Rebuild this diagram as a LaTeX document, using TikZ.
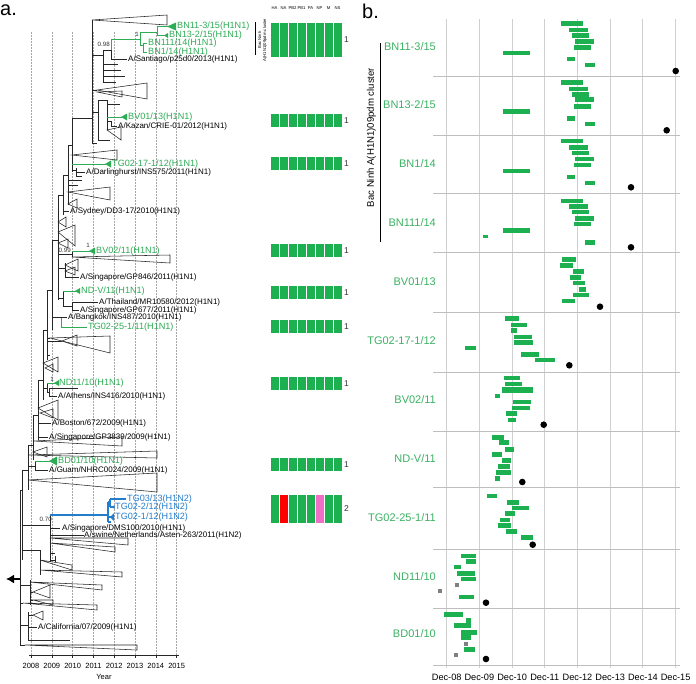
\documentclass[tikz,border=0pt]{standalone}
\usepackage{fontspec}
\setmainfont{Liberation Sans}
\usetikzlibrary{arrows.meta}
\definecolor{tgreen}{RGB}{45,172,85}
\definecolor{lgreen}{RGB}{60,178,100}
\definecolor{barg}{RGB}{29,176,80}
\definecolor{tblue}{RGB}{35,125,205}
\definecolor{gridc}{RGB}{208,208,208}
\definecolor{sepc}{RGB}{190,190,190}
\definecolor{segpink}{RGB}{240,110,200}
\newcommand\ctri[5]{\draw[treeln] (#1,#2) -- (#3,#4) -- (#3,#5) -- cycle;}
\begin{document}
\begin{tikzpicture}[x=1pt,y=-1pt,
 treeln/.style={line width=0.55pt, draw=black!85},
 grnln/.style={line width=0.8pt, draw=tgreen},
 bluln/.style={line width=1.1pt, draw=tblue},
 yearln/.style={line width=0.5pt, draw=black!35, dash pattern=on 1.5pt off 1.5pt},
 tlab/.style={font=\fontsize{8}{9}\selectfont, anchor=west, inner sep=0pt, text=black},
 glab/.style={font=\fontsize{9.1}{10}\selectfont, anchor=west, inner sep=0pt, text=tgreen},
 blulab/.style={glab, text=tblue},
 smlab/.style={font=\fontsize{6.2}{7}\selectfont, inner sep=0pt, text=black!80},
 hdlab/.style={font=\fontsize{4.2}{5}\selectfont, inner sep=0pt},
 onelab/.style={font=\fontsize{8.5}{9}\selectfont, anchor=west, inner sep=0pt, text=black!80},
 yrlab/.style={font=\fontsize{7.5}{8}\selectfont, inner sep=0pt},
 blab/.style={font=\fontsize{11}{12}\selectfont, anchor=east, inner sep=0pt, text=lgreen},
 axlab/.style={font=\fontsize{9.2}{10}\selectfont, inner sep=0pt},
 panlab/.style={font=\fontsize{20}{22}\selectfont, anchor=north west, inner sep=0pt},
 gridln/.style={line width=1pt, draw=gridc},
 sepln/.style={line width=0.8pt, draw=sepc}
]
\useasboundingbox[fill=white] (0,0) rectangle (696,683);

% ================= PANEL A =================
\node[panlab] (pa) at (0,5) {a.};
% year grid
\foreach \k in {0,...,7} \draw[yearln] ({31+20.8*\k},32) -- ({31+20.8*\k},655);
\draw[treeln] (29,655) -- (179,655);
\foreach \k/\yr in {0/2008,1/2009,2/2010,3/2011,4/2012,5/2013,6/2014,7/2015}{
  \draw[treeln] ({31+20.8*\k},655) -- ({31+20.8*\k},658);
  \node[yrlab] (yr\k) at ({31+20.8*\k},666) {\yr};
}
\node[yrlab] (yearlab) at (104,677) {Year};

% ---- top clade
\draw[treeln] (72,118) -- (92,118);
\draw[treeln] (92,20) -- (92,143);
\ctri{92}{20}{167}{15}{25}
\draw[treeln] (92,55) -- (103,55) (103,50) -- (103,82);
\draw[treeln] (103,50) -- (111,50) -- (111,59) -- (127,59);
\draw[grnln] (111,50) -- (111,39) -- (140,39);
\draw[grnln] (140,32) -- (140,45);
\draw[grnln] (140,32) -- (157,32) (157,26.5) -- (157,35.5);
\draw[grnln] (157,26.5) -- (168,26.5) (157,35.5) -- (165,35.5);
\fill[tgreen] (167,26.5) -- (176,22.5) -- (176,30.5) -- cycle;
\fill[tgreen] (164,35.5) -- (168,33) -- (168,38) -- cycle;
\draw[grnln] (140,45) -- (143,45) (143,43.5) -- (143,52) (143,43.5) -- (147,43.5) (143,52) -- (147,52);
\draw[treeln] (103,64) -- (118,64) (103,70) -- (121,70) (103,76) -- (125,76) (103,82) -- (116,82);
\draw[treeln] (92,90) -- (97,90);
\ctri{97}{90}{147}{83}{99}
\ctri{97}{92}{122}{91}{97}
\draw[treeln] (92,112) -- (98,112) (98,100) -- (98,140) (98,100) -- (107,100) (107,100) -- (107,130);
\draw[treeln] (107,104) -- (120,104) (107,121) -- (111,121) (111,121) -- (111,126) -- (117,126);
\draw[grnln] (107,117) -- (122,117);
\fill[tgreen] (121,117) -- (127,113.5) -- (127,120.5) -- cycle;
\ctri{107}{130}{121}{127}{140}
\draw[treeln] (98,140) -- (110,140) (92,143) -- (97,143);

% ---- middle
\draw[treeln] (72,118) -- (72,172);
\ctri{72}{155}{117}{150}{160}
\draw[grnln] (72,164) -- (106,164);
\fill[tgreen] (105,164) -- (111,160.5) -- (111,167.5) -- cycle;
\draw[treeln] (72,170) -- (76,170) (76,168) -- (76,176) (76,172) -- (85,172) (76,176) -- (82,176);
\draw[treeln] (68,145) -- (72,145) (68,145) -- (68,205);
\draw[treeln] (68,180) -- (82,180) (68,185) -- (78,185);
\ctri{68}{192}{110}{187}{200}
\ctri{68}{204}{77}{199}{208}
\draw[treeln] (63,175) -- (68,175) (63,175) -- (63,215) (63,211) -- (69,211);
\draw[treeln] (58,195) -- (63,195) (58,195) -- (58,300);
\ctri{58}{222}{66}{217}{227}
\ctri{58}{232}{75}{225}{246}
\ctri{58}{243}{68}{239}{248}
\draw[treeln] (58,254) -- (72,254) (72,251) -- (72,257);
\draw[grnln] (72,251) -- (90,251);
\fill[tgreen] (89,251) -- (95,247.5) -- (95,254.5) -- cycle;
\ctri{72}{257}{170}{255}{263}
\draw[treeln] (58,268) -- (65,268) (65,263) -- (65,277) (65,277) -- (79,277);
\ctri{65}{265}{78}{259}{271}
\ctri{65}{271}{75}{267}{275}
\draw[treeln] (58,298) -- (63,298) (63,291) -- (63,306) (63,306) -- (72,306) (72,302) -- (72,310) (72,302) -- (98,302) (72,310) -- (79,310);
\draw[grnln] (63,291) -- (76,291);
\fill[tgreen] (75,291) -- (80,288) -- (80,294) -- cycle;
\draw[treeln] (52,240) -- (58,240) (52,240) -- (52,330) (52,317.5) -- (67,317.5);
\draw[grnln] (61,317.5) -- (61,327) -- (87,327);
\draw[treeln] (47,290) -- (52,290) (47,290) -- (47,360);
\draw[treeln] (47,338) -- (50,338) (47,341) -- (62,341) (47,355) -- (50,355);
\ctri{50}{338}{110}{336}{353}
\ctri{62}{341}{77}{335}{346}
\draw[treeln] (43,330) -- (47,330) (43,330) -- (43,400);
\ctri{43}{363}{58}{357}{372}
\ctri{45}{368}{53}{364}{372}
\draw[treeln] (43,388) -- (47,388) (47,383) -- (47,392) (47,392) -- (49,392) (49,388) -- (49,396) (49,388) -- (78,388) (49,396) -- (57,396);
\draw[grnln] (47,383) -- (55,383);
\fill[tgreen] (54,383) -- (59,380) -- (59,386) -- cycle;
\draw[treeln] (38,380) -- (43,380) (38,380) -- (38,440);
\ctri{38}{408}{58}{400}{420}
\ctri{40}{413}{53}{409}{418}
\draw[treeln] (38,423) -- (51,423) (38,437) -- (48,437);
\draw[treeln] (33,415) -- (38,415) (33,415) -- (33,460);
\ctri{33}{441}{122}{437}{446}
\ctri{33}{452}{47}{447}{457}
\draw[treeln] (28,445) -- (33,445) (28,445) -- (28,490);
\ctri{28}{455}{157}{451}{458}
\draw[treeln] (28,466) -- (35,466) (35,461) -- (35,470) (35,470) -- (48,470);
\draw[grnln] (35,461) -- (50,461);
\fill[tgreen] (49,461) -- (57,456.5) -- (57,465.5) -- cycle;
\ctri{28}{480}{157}{473}{492}

% ---- lower / blue
\draw[treeln] (22,470) -- (28,470) (22,470) -- (22,560) (22,525) -- (50,525) (50,515) -- (50,562);
\draw[bluln] (50,515) -- (108,515) (108,502) -- (108,522) (108,502) -- (110,502) (110,499) -- (110,507) (110,499) -- (126,499) (110,507) -- (114,507) (108,517) -- (111,517) (108,522) -- (111,522);
\fill[tblue] (110,517) -- (114,513) -- (114,521) -- cycle;
\fill[tblue] (112,507) -- (114.5,505) -- (114.5,509) -- cycle;
\draw[treeln] (50,528) -- (60,528) (50,535) -- (84,535);
\ctri{50}{538}{128}{538}{545}
\ctri{50}{543}{115}{547}{552}
\draw[treeln] (50,553) -- (55,553) (50,560) -- (55,560) (55,556) -- (55,562);
\draw[treeln] (20,490) -- (22,490) (20,490) -- (20,645);
\draw[treeln] (22,550) -- (40,550) (40,550) -- (40,575);
\ctri{40}{560}{72}{565}{570}
\ctri{40}{570}{122}{572}{577}
\draw[treeln] (20,585) -- (30,585) (30,580) -- (30,605) (30,592) -- (33,592) (30,600) -- (33,600);
\ctri{30}{582}{102}{585}{590}
\ctri{33}{592}{50}{585}{598}
\ctri{33}{600}{53}{600}{605}
\draw[treeln] (20,603) -- (23,603);
\ctri{23}{603}{97}{605}{610}
\draw[treeln] (20,625) -- (28,625) (28,612) -- (28,640) (28,615) -- (33,615) (28,627) -- (37,627) (28,640) -- (70,640) (20,645) -- (25,645);
\ctri{33}{615}{43}{611}{620}
\ctri{25}{645}{137}{645}{650}
\coordinate (rootpt) at (20,579);
\coordinate (rootend) at (6,579);
\draw[line width=1.4pt, -{Latex[length=8pt,width=9pt]}] (rootpt) -- (rootend);

% ---- tree labels
\node[glab] (l1) at (177,26.5) {BN11-3/15(H1N1)};
\node[glab] (l2) at (169,35.5) {BN13-2/15(H1N1)};
\node[glab] (l3) at (148,43.5) {BN111/14(H1N1)};
\node[glab] (l4) at (148,52) {BN1/14(H1N1)};
\node[tlab] (l5) at (128,59.5) {A/Santiago/p25d0/2013(H1N1)};
\node[glab] (l6) at (128,117) {BV01/13(H1N1)};
\node[tlab] (l7) at (118,126) {A/Kazan/CRIE-01/2012(H1N1)};
\node[glab] (l8) at (112,164) {TG02-17-1/12(H1N1)};
\node[tlab] (l9) at (86,172) {A/Darlinghurst/INS575/2011(H1N1)};
\node[tlab] (l10) at (70,211) {A/Sydney/DD3-17/2010(H1N1)};
\node[glab] (l11) at (96,251) {BV02/11(H1N1)};
\node[tlab] (l12) at (80,277) {A/Singapore/GP846/2011(H1N1)};
\node[glab] (l13) at (81,291) {ND-V/11(H1N1)};
\node[tlab] (l14) at (99,302) {A/Thailand/MR10580/2012(H1N1)};
\node[tlab] (l15) at (80,310) {A/Singapore/GP677/2011(H1N1)};
\node[tlab] (l16) at (68,317.5) {A/Bangkok/INS487/2010(H1N1)};
\node[glab] (l17) at (88,327) {TG02-25-1/11(H1N1)};
\node[glab] (l18) at (59,383) {ND11/10(H1N1)};
\node[tlab] (l19) at (58,396) {A/Athens/INS416/2010(H1N1)};
\node[tlab] (l20) at (52,423) {A/Boston/672/2009(H1N1)};
\node[tlab] (l21) at (49,437) {A/Singapore/GP3839/2009(H1N1)};
\node[glab] (l22) at (58,461) {BD01/10(H1N1)};
\node[tlab] (l23) at (49,470) {A/Guam/NHRC0024/2009(H1N1)};
\node[blulab] (l24) at (127,499) {TG03/13(H1N2)};
\node[blulab] (l25) at (115,507.5) {TG02-2/12(H1N2)};
\node[blulab] (l26) at (115,517) {TG02-1/12(H1N2)};
\node[tlab] (l27) at (62,528) {A/Singapore/DMS100/2010(H1N1)};
\node[tlab] (l28) at (84,535) {A/swine/Netherlands/Asten-263/2011(H1N2)};
\node[tlab] (l29) at (38,627) {A/California/07/2009(H1N1)};
% support values
\node[smlab, anchor=east] (s1) at (110,44) {0.98};
\node[smlab] (s2) at (137,34) {1};
\node[smlab, anchor=east] (s3) at (71,250) {0.99};
\node[smlab] (s4) at (88,245) {1};
\node[smlab] (s5) at (52,379) {1};
\node[smlab, anchor=east] (s6) at (52,519) {0.70};

% ---- cluster bar & header
\draw[line width=1pt] (255,22) -- (255,55);
\node[hdlab, rotate=90, anchor=north, align=center] (bnclus) at (258,40) {Bac Ninh\\A(H1N1)09pdm cluster};
\foreach \k/\s in {0/HA,1/NA,2/PB2,3/PB1,4/PA,5/NP,6/M,7/NS}
  \node[hdlab] (h\k) at ({274.5+9*\k},8.5) {\s};
% segment rows
\foreach \ya/\yb [count=\r] in {23/57,114/127,157/170,244/257,286/299,320/333,377/390,458/471,495/523}{
  \foreach \i in {0,...,7}
    \fill[barg] ({270.5+9*\i},\ya) rectangle ({278.5+9*\i},\yb);
}
\fill[red] (279.5,495) rectangle (287.5,523);
\fill[segpink] (315.5,495) rectangle (323.5,523);
\foreach \yy [count=\r] in {40,120.5,163.5,250.5,292.5,326.5,383.5,464.5}
  \node[onelab] (one\r) at (344,\yy) {1};
\node[onelab] (two) at (344,509) {2};

% ================= PANEL B =================
\node[panlab] (pb) at (362,4) {b.};
\foreach \k in {0,...,7} \draw[gridln] ({446.7+32.7*\k},19) -- ({446.7+32.7*\k},668);
\foreach \yy in {76,135,193,252,312,372,431,487,549,608}
  \draw[sepln] (433,\yy) -- (680,\yy);
\draw[sepln] (433,665) -- (680,665);
\foreach \k/\t in {0/08,1/09,2/10,3/11,4/12,5/13,6/14,7/15}
  \node[axlab] (d\k) at ({446.7+32.7*\k},677) {Dec-\t};
\draw[line width=1pt] (380,43) -- (380,242);
\node[font=\fontsize{9.6}{10}\selectfont, rotate=90, inner sep=0pt] (bnc) at (371.5,137.5) {Bac Ninh A(H1N1)09pdm cluster};
\node[blab] (r1) at (436,47) {BN11-3/15};
\node[blab] (r2) at (436,105) {BN13-2/15};
\node[blab] (r3) at (436,163.7) {BN1/14};
\node[blab] (r4) at (436,222.3) {BN111/14};
\node[blab] (r5) at (436,281.7) {BV01/13};
\node[blab] (r6) at (436,341) {TG02-17-1/12};
\node[blab] (r7) at (436,400) {BV02/11};
\node[blab] (r8) at (436,458.3) {ND-V/11};
\node[blab] (r9) at (436,517.3) {TG02-25-1/11};
\node[blab] (r10) at (436,576.7) {ND11/10};
\node[blab] (r11) at (436,634) {BD01/10};

% bars
\foreach \a/\b/\c/\d in {
 560.7/21/583.3/25.7, 569.3/27.7/587.7/31.7, 572/33/589.3/37.7, 575.3/39.3/593.7/43.7, 574.3/45/590.7/49.7, 503/51/530/55, 566.7/56.7/575.3/61.3, 585.3/62.7/595/66.7,
 560.7/80/583.3/84.7, 569.3/86.7/587.7/91.3, 572/92.3/589.3/97.3, 575.3/97.3/593.7/102, 574.3/104/590.7/108.7, 503/109/530/114, 566.7/116/575.3/120.7, 585.3/121.7/595/126,
 560.7/139.3/583.3/143.3, 569.3/144.7/588/149.7, 572/151/589.3/155.3, 575.3/156.7/593.7/161.3, 574.3/163/590.7/167, 503/168.7/530/173.3, 566.7/175/575.3/178.7, 585.3/180.7/595/185.3,
 560.7/199/583.3/202.7, 569.3/204/588/209, 572/210.3/589.3/214.3, 575.3/216/593.7/220.7, 574.3/221.7/590.7/226, 503/228.3/530/232.7, 483.3/235/487.7/238.3, 585.3/240.3/595/244.7,
 562/257/576/261.7, 560/263.3/573/268.3, 572.7/269/584.3/273.7, 570/275.3/581/280, 573/280.7/585/285.3, 579/287.3/585.7/292, 573/292.7/589.3/297.3, 562.3/299/575/302.7,
 505/316.3/518.7/321, 511.3/322.7/527.3/326.7, 511.3/327.7/516.7/333, 514.3/334.7/532/338.7, 514.3/340/532.7/344.7, 465/346.3/475.7/350, 521.3/352/538.7/356.7, 534.7/358/555.3/362,
 504/375.7/520/380.3, 505/382/522.3/386, 502.3/387.3/532.7/392.7, 494.7/394/500.3/397.7, 513/399.7/531/404.3, 512.3/406/530.3/410, 506/411.3/517/416, 508/417.7/516/421.7,
 491.7/435/504/440, 499.3/440/508.7/445, 505/446.7/514/451.7, 491.7/452.3/501.7/456.7, 501.7/458.3/511.3/463.3, 498.3/464/510.3/468.7, 496/470/511.3/474.7, 495.3/476/500.3/480.7,
 486.7/494.3/497/498.3, 507/500/518.7/504.7, 512.3/506/529.3/510, 505/511.3/514.7/516, 500/518/510/522, 498/523.3/510.7/528.3, 506/529.3/517.3/533.7, 520.7/535/533/540,
 461.3/553.7/476.3/557.7, 466/559.3/476.3/564, 454.3/565.3/461/569.3, 457/570.7/475/576, 461/577/476/581.3, 458.7/594.7/474/599.3,
 443.7/611.7/462.7/616.7, 466/618.3/471.3/623.3, 454.3/623.3/470.7/628.3, 461.3/630/476.7/635, 461/635.3/471.3/640.3, 464/647.3/474.7/652.3}
  \fill[barg] (\a,\b) rectangle (\c,\d);
% grey squares
\foreach \a/\b in {455.3/583.3, 438.3/589.3, 464.3/641.7, 453.7/653}
  \fill[black!50] (\a,\b) rectangle ++(3.8,3.8);
% dots
\foreach \a/\b in {675.7/71, 666.7/130.3, 631/187.3, 631/247.3, 600/306.7, 569.3/365.3, 543.7/424.7, 522.3/482, 532.7/544.7, 486/602.7, 486/659}
  \fill[black] (\a,\b) circle (3.3);
\end{tikzpicture}
\end{document}
